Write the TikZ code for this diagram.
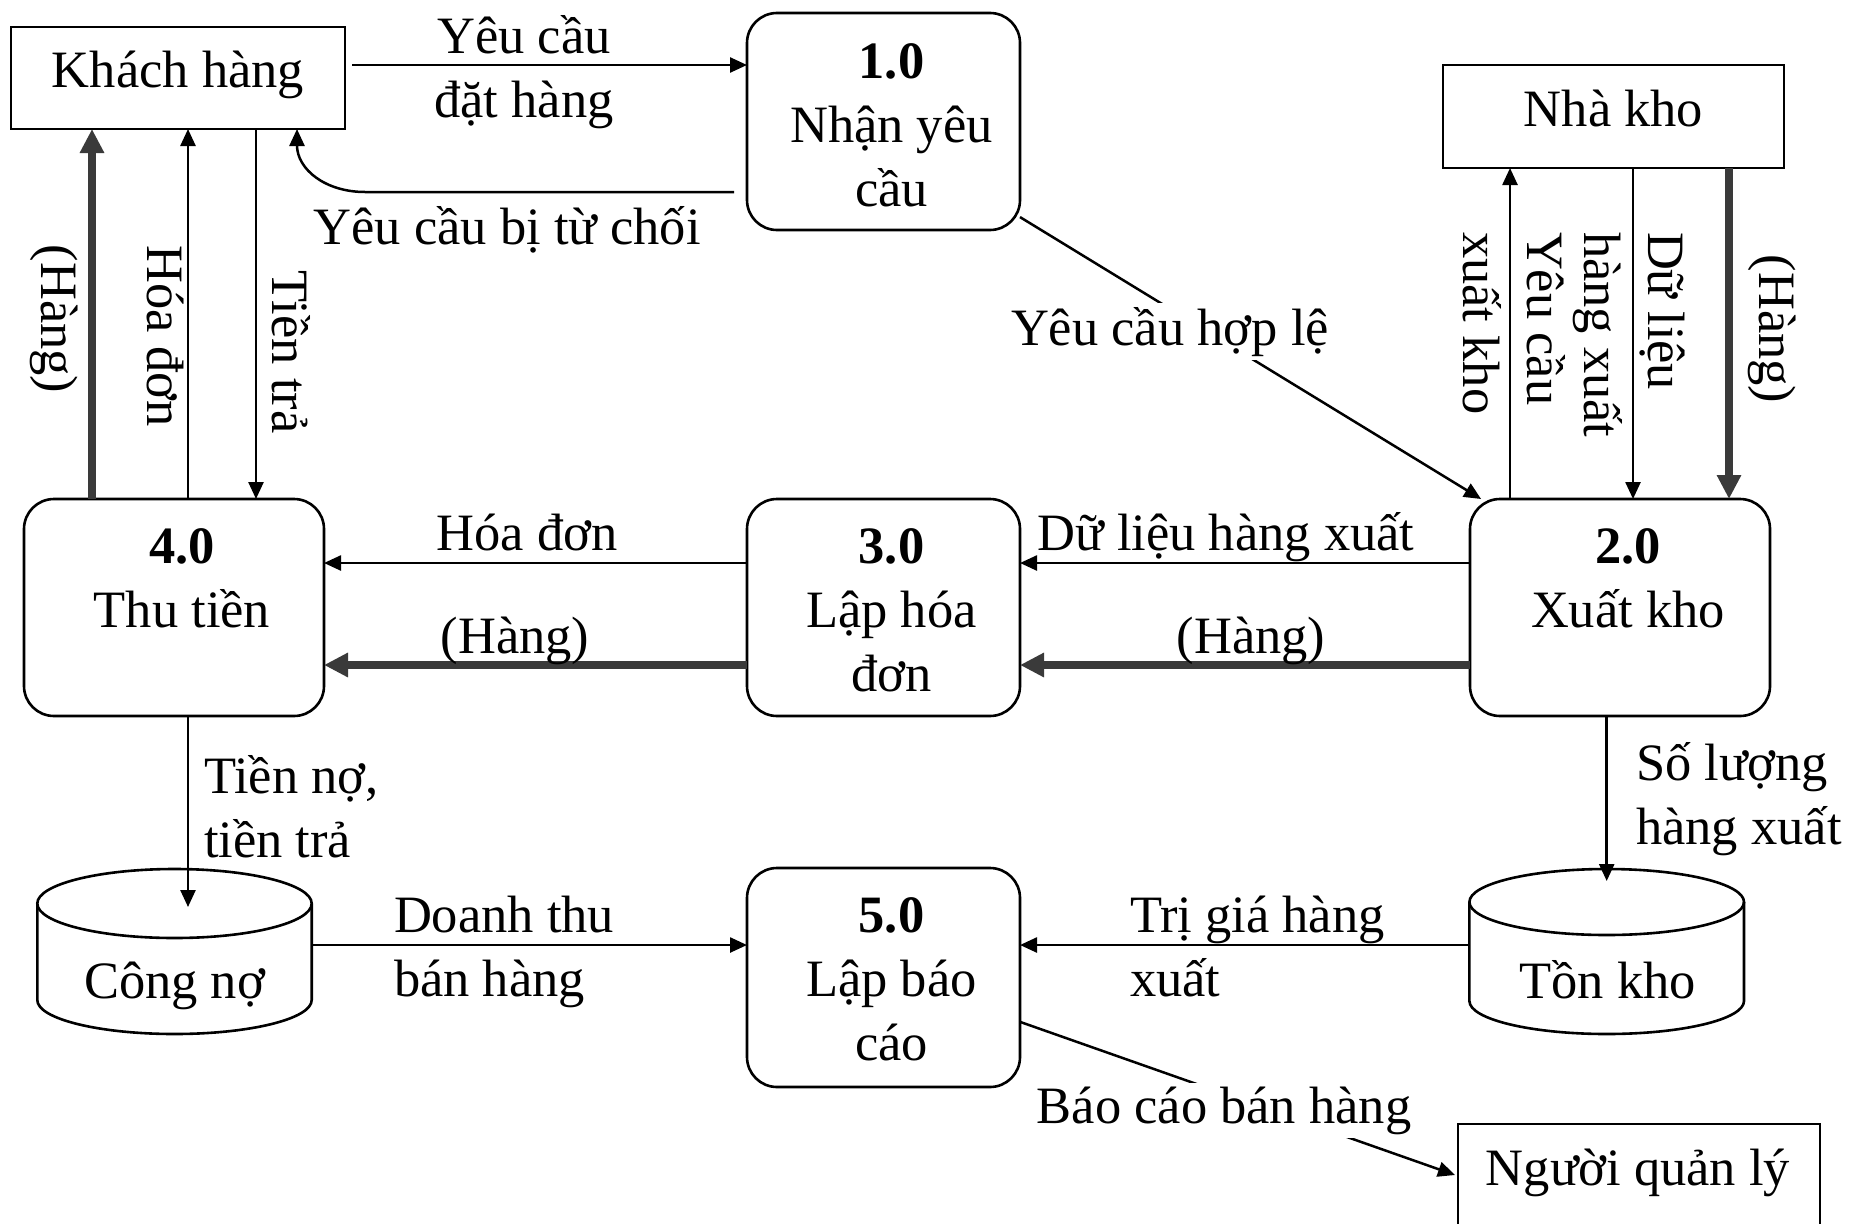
\documentclass[tikz,border=0pt]{standalone}
\usepackage{fontspec}
\setmainfont{Liberation Serif}
\usetikzlibrary{arrows.meta,calc}
\definecolor{flowdark}{RGB}{58,58,58}

\begin{document}
\begin{tikzpicture}[x=1pt,y=-1pt,
  every node/.style={inner sep=0pt, outer sep=0pt, font=\fontsize{52.5}{64}\selectfont},
  procbox/.style={draw, line width=2.6pt, rounded corners=30pt, minimum width=273pt, minimum height=217pt},
  entbox/.style={draw, line width=2.6pt},
  store/.style={line width=2.6pt},
  flow/.style={line width=2.5pt, -{Triangle[length=17pt,width=15pt]}},
  goods/.style={line width=7.5pt, draw=flowdark, -{Triangle[length=24pt,width=23pt]}},
  cut/.style={fill=white, inner sep=4pt}
]
\fill[white] (0,0) rectangle (1859,1223);
\useasboundingbox (0,0) rectangle (1859,1223);
\clip (0,0) rectangle (1859,1223);

% processes (multi-line texts are placed by the baseline of their last line)
\node[procbox] (p1) at (883.5,121.5) {};
\node[align=center, anchor=base] (p1t) at (891.5,206) {\textbf{1.0}\\Nhận yêu\\cầu};
\node[procbox, minimum width=300pt] (p4) at (174,607.5) {};
\node[align=center, anchor=base] (p4t) at (182,627) {\textbf{4.0}\\Thu tiền};
\node[procbox] (p3) at (883.5,607.5) {};
\node[align=center, anchor=base] (p3t) at (891.5,691) {\textbf{3.0}\\Lập hóa\\đơn};
\node[procbox, minimum width=300pt] (p2) at (1620,607.5) {};
\node[align=center, anchor=base] (p2t) at (1628,627) {\textbf{2.0}\\Xuất kho};
\node[procbox, minimum height=219pt] (p5) at (883.5,977.5) {};
\node[align=center, anchor=base] (p5t) at (891.5,1060) {\textbf{5.0}\\Lập báo\\cáo};

% external entities
\node[entbox, minimum width=334pt, minimum height=102pt, text height=35pt, text depth=15pt] (kh) at (178,78) {Khách hàng};
\node[entbox, minimum width=341pt, minimum height=103pt, text height=35pt, text depth=15pt] (nk) at (1613.5,116.5) {Nhà kho};
\node[entbox, minimum width=362pt, minimum height=140pt] (mgr) at (1639,1194) {};
\node[anchor=base] (mgrt) at (1638,1185) {Người quản lý};

% data stores
\draw[store] (174.5,903.5) ellipse [x radius=137.2, y radius=34.5];
\draw[store] (37.3,903.5) -- (37.3,1000) arc [start angle=180, end angle=0, x radius=137.2, y radius=34] -- (311.7,903.5);
\node[anchor=base] (cn) at (174.5,998) {Công nợ};
\draw[store] (1606.7,902) ellipse [x radius=137.3, y radius=33];
\draw[store] (1469.4,902) -- (1469.4,1001) arc [start angle=180, end angle=0, x radius=137.3, y radius=33] -- (1744,902);
\node[anchor=base] (tk) at (1607.5,998) {Tồn kho};
\coordinate (cnIn) at (188,907);
\coordinate (cnOut) at (311.7,945);
\coordinate (tkIn) at (1606.7,881);
\coordinate (tkOut) at (1469.4,945);

% flows around the customer
\coordinate (orderStart) at ($(kh.east)+(7,-13)$);
\draw[flow] (orderStart) -- (orderStart -| p1.west);
\draw[flow] ($(p1.west)+(-13,70.5)$) -- ++(-369,0) .. controls +(-40,0) and +(0,40) .. ($(kh.south)+(119,0)$);
\draw[goods] ($(p4.north)+(-82,0)$) -- ($(p4.north |- kh.south)+(-82,0)$);
\draw[flow] ($(p4.north)+(14,0)$) -- ($(p4.north |- kh.south)+(14,0)$);
\draw[flow] ($(p4.north |- kh.south)+(82,0)$) -- ($(p4.north)+(82,0)$);

% flows around the warehouse
\draw[flow] ($(p2.north)+(-110,0)$) -- ($(p2.north |- nk.south)+(-110,0)$);
\draw[flow] ($(p2.north |- nk.south)+(13,0)$) -- ($(p2.north)+(13,0)$);
\draw[goods] ($(p2.north |- nk.south)+(109,0)$) -- ($(p2.north)+(109,0)$);

% flows between processes
\draw[flow] (p1.-35) -- (p2.142);
\draw[flow] ($(p3.west)+(0,-44.5)$) -- ($(p4.east |- p3.west)+(0,-44.5)$);
\draw[goods] ($(p3.west)+(0,57.5)$) -- ($(p4.east |- p3.west)+(0,57.5)$);
\draw[flow] ($(p2.west)+(0,-44.5)$) -- ($(p3.east)+(0,-44.5)$);
\draw[goods] ($(p2.west)+(0,57.5)$) -- ($(p3.east)+(0,57.5)$);

% flows to and from the stores
\draw[flow] (p4.south -| cnIn) -- (cnIn);
\draw[flow] (cnOut) -- (p5.west |- cnOut);
\draw[flow] (p2.south -| tkIn) -- (tkIn);
\draw[flow] (tkOut) -- (p5.east |- tkOut);
\draw[flow] (p5.-18) -- ($(mgr.north west)+(-3,51)$);

% flow labels
\node[align=center, anchor=base] (lOrder) at (524,117) {Yêu cầu\\đặt hàng};
\node[anchor=base] (lReject) at (507,244) {Yêu cầu bị từ chối};
\node[cut, anchor=base] (lValid) at (1170,345) {Yêu cầu hợp lệ};
\node[anchor=base] (lInv1) at (527,550) {Hóa đơn};
\node[anchor=base] (lGoods1) at (515,653) {(Hàng)};
\node[anchor=base] (lData) at (1226,550) {Dữ liệu hàng xuất};
\node[anchor=base] (lGoods2) at (1251,653) {(Hàng)};
\node[align=left, anchor=base west] (lDebt) at (204,857) {Tiền nợ,\\tiền trả};
\node[align=left, anchor=base west] (lQty) at (1636,844) {Số lượng\\hàng xuất};
\node[align=left, anchor=base west] (lRev) at (394,996) {Doanh thu\\bán hàng};
\node[align=left, anchor=base west] (lVal) at (1130,996) {Trị giá hàng\\xuất};
\node[cut, anchor=base] (lReport) at (1224,1123) {Báo cáo bán hàng};
\node[rotate=-90, anchor=base] (lGoods3) at (41,319) {(Hàng)};
\node[rotate=-90, anchor=base] (lInv2) at (147,336) {Hóa đơn};
\node[rotate=-90, anchor=base] (lPaid) at (272,352) {Tiền trả};
\node[rotate=-90, align=left, anchor=base west] (lIssue) at (1463,232) {Yêu cầu\\xuất kho};
\node[rotate=-90, align=left, anchor=base west] (lData2) at (1584,232) {Dữ liệu\\hàng xuất};
\node[rotate=-90, anchor=base] (lGoods4) at (1759,329) {(Hàng)};
\end{tikzpicture}
\end{document}
